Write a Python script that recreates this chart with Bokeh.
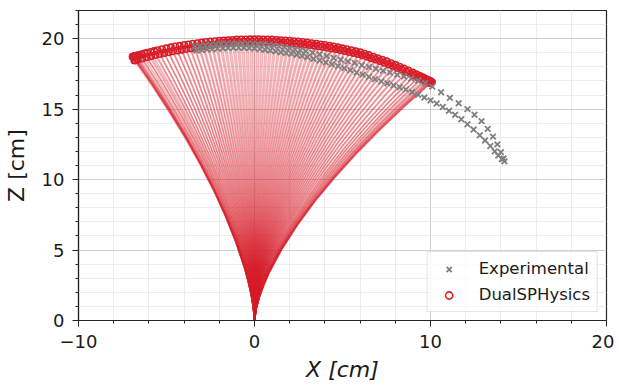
from bokeh.plotting import figure
from bokeh.models import Range1d, FixedTicker, Legend, LegendItem
from bokeh.embed import file_html
from bokeh.resources import INLINE

# ---- data ----
# DualSPHysics: beam tip positions over time [cm], swing to the right
tip_x = [-6.92, -6.9, -6.88, -6.85, -6.8, -6.74, -6.66, -6.55, -6.4, -6.25, -6.1, -5.9, -5.7, -5.5,
         -5.25, -5.0, -4.75, -4.5, -4.25, -4.0, -3.75, -3.5, -3.25, -3.0, -2.75, -2.5, -2.25, -2.0,
         -1.75, -1.5, -1.25, -1.0, -0.75, -0.5, -0.25, 0.0, 0.25, 0.5, 0.75, 1.0, 1.25, 1.5, 1.75,
         2.0, 2.25, 2.5, 2.75, 3.0, 3.25, 3.5, 3.75, 4.0, 4.25, 4.5, 4.75, 5.0, 5.25, 5.5, 5.75,
         6.0, 6.25, 6.5, 6.75, 7.0, 7.25, 7.5, 7.75, 8.0, 8.25, 8.5, 8.75, 9.0, 9.2, 9.4, 9.55,
         9.7, 9.8, 9.9, 9.97, 10.02, 10.06, 10.08]
tip_z = [18.71, 18.72, 18.73, 18.74, 18.76, 18.78, 18.81, 18.84, 18.90, 18.95, 18.99, 19.06, 19.12, 19.18,
         19.25, 19.31, 19.38, 19.44, 19.49, 19.55, 19.59, 19.64, 19.68, 19.72, 19.76, 19.79, 19.82, 19.85,
         19.87, 19.89, 19.91, 19.93, 19.94, 19.94, 19.95, 19.95, 19.95, 19.94, 19.94, 19.93, 19.91, 19.89, 19.87,
         19.85, 19.82, 19.79, 19.76, 19.72, 19.68, 19.64, 19.59, 19.55, 19.49, 19.44, 19.38, 19.31, 19.25, 19.18, 19.10,
         19.03, 18.93, 18.83, 18.72, 18.61, 18.50, 18.39, 18.26, 18.14, 18.01, 17.88, 17.74, 17.59, 17.48, 17.35, 17.26,
         17.17, 17.10, 17.04, 16.99, 16.96, 16.93, 16.92]
# swing back to the left
ret_x = [9.95, 9.85, 9.7, 9.5, 9.3, 9.1, 8.88, 8.63, 8.38, 8.13, 7.88, 7.63, 7.38, 7.13, 6.88, 6.63,
         6.38, 6.13, 5.88, 5.63, 5.38, 5.13, 4.88, 4.63, 4.38, 4.13, 3.88, 3.63, 3.38, 3.13, 2.88, 2.63,
         2.38, 2.13, 1.88, 1.63, 1.38, 1.13, 0.88, 0.63, 0.38, 0.13, -0.13, -0.38, -0.63, -0.88, -1.13,
         -1.38, -1.63, -1.88, -2.13, -2.38, -2.63, -2.88, -3.13, -3.38, -3.63, -3.88, -4.13, -4.38,
         -4.63, -4.88, -5.13, -5.38, -5.63, -5.88, -6.13, -6.38, -6.63, -6.75, -6.82]
ret_z = [16.85, 16.92, 17.02, 17.14, 17.26, 17.38, 17.51, 17.65, 17.79, 17.92, 18.05, 18.17, 18.29, 18.41,
         18.52, 18.62, 18.73, 18.83, 18.91, 18.99, 19.06, 19.13, 19.19, 19.26, 19.31, 19.37, 19.42, 19.47,
         19.51, 19.55, 19.59, 19.63, 19.66, 19.69, 19.71, 19.73, 19.75, 19.77, 19.78, 19.79, 19.80, 19.80,
         19.80, 19.80, 19.79, 19.78, 19.77, 19.75, 19.73, 19.71, 19.59, 19.56, 19.53, 19.49, 19.45, 19.36,
         19.32, 19.27, 19.22, 19.16, 19.11, 19.04, 18.98, 18.91, 18.84, 18.76, 18.69, 18.60, 18.52, 18.47, 18.45]
# beam deflection profile: fraction of height vs fraction of tip displacement
beam_h = [0.0, 0.05, 0.1, 0.15, 0.2, 0.3, 0.4, 0.5, 0.6, 0.7, 0.8, 0.9, 1.0]
beam_w = [0.0, 0.01, 0.028, 0.053, 0.082, 0.155, 0.242, 0.341, 0.453, 0.575, 0.708, 0.849, 1.0]

# Experimental tip positions: two passes
exp_up_x = [-3.4, -3.1, -2.8, -2.5, -2.2, -1.9, -1.6, -1.3, -1.0, -0.7, -0.4, -0.1, 0.2, 0.5, 0.8, 1.1,
            1.4, 1.7, 2.0, 2.3, 2.6, 2.9, 3.3, 3.7, 4.1, 4.5, 4.9, 5.3, 5.7, 6.1, 6.5, 6.9, 7.3, 7.7,
            8.1, 8.5, 8.9, 9.3, 9.7, 10.1, 10.6, 11.1, 11.6, 12.1, 12.5, 12.9, 13.25, 13.55, 13.8,
            14.0, 14.15]
exp_up_z = [19.45, 19.49, 19.53, 19.57, 19.60, 19.62, 19.64, 19.65, 19.66, 19.66, 19.66, 19.65, 19.63,
            19.61, 19.57, 19.52, 19.46, 19.40, 19.33, 19.25, 19.18, 19.11, 19.01, 18.89, 18.76, 18.63,
            18.51, 18.39, 18.27, 18.12, 17.99, 17.86, 17.73, 17.59, 17.45, 17.31, 17.17, 17.02, 16.85,
            16.6, 16.2, 15.8, 15.42, 15.0, 14.6, 14.15, 13.6, 13.05, 12.5, 11.95, 11.5]
exp_lo_x = [-3.3, -3.0, -2.7, -2.4, -2.1, -1.8, -1.5, -1.2, -0.9, -0.6, -0.3, 0.0, 0.3, 0.6, 0.9, 1.2,
            1.5, 1.8, 2.1, 2.4, 2.7, 3.0, 3.35, 3.7, 4.05, 4.4, 4.75, 5.1, 5.45, 5.8, 6.15, 6.5, 6.85,
            7.2, 7.55, 7.9, 8.25, 8.6, 8.95, 9.3, 9.65, 10.0, 10.35, 10.7, 11.05, 11.4, 11.75, 12.1,
            12.45, 12.8, 13.1, 13.4, 13.65, 13.85, 14.05, 14.2]
exp_lo_z = [19.15, 19.19, 19.23, 19.27, 19.30, 19.32, 19.34, 19.35, 19.36, 19.35, 19.33, 19.31, 19.27,
            19.22, 19.16, 19.10, 19.04, 18.98, 18.92, 18.85, 18.78, 18.69, 18.57, 18.45, 18.32, 18.19,
            18.05, 17.91, 17.76, 17.60, 17.45, 17.29, 17.13, 16.97, 16.83, 16.69, 16.55, 16.39, 16.21,
            16.02, 15.82, 15.62, 15.40, 15.15, 14.88, 14.60, 14.28, 13.93, 13.55, 13.15, 12.78, 12.38,
            12.0, 11.7, 11.45, 11.3]

x_major = [-10, 0, 10, 20]
x_minor = [-8, -6, -4, -2, 2, 4, 6, 8, 12, 14, 16, 18]
y_major = [0, 5, 10, 15, 20]
y_minor = [1, 2, 3, 4, 6, 7, 8, 9, 11, 12, 13, 14, 16, 17, 18, 19, 21, 22]

RED = "#d81e2a"
GRAY = "#7f7f7f"
FONT = "DejaVu Sans"
AX = "#262626"

p = figure(width=614, height=385, x_range=Range1d(-10, 20), y_range=Range1d(0, 22),
           output_backend="svg", toolbar_location=None,
           min_border_left=78, min_border_right=8, min_border_top=10, min_border_bottom=65)
p.background_fill_color = "white"
p.border_fill_color = "white"
p.outline_line_color = AX
p.outline_line_width = 1.2

# beam shapes
all_tx = tip_x + ret_x
all_tz = tip_z + ret_z
xs = [[tx * w for w in beam_w] for tx in all_tx]
ys = [[tz * h for h in beam_h] for tz in all_tz]
p.multi_line(xs, ys, line_color=RED, line_alpha=0.33, line_width=1.6)

circ = p.scatter(all_tx, all_tz, marker="circle", size=6.5, fill_color=None,
                 line_color=RED, line_width=1.6)
exp = p.scatter(exp_up_x + exp_lo_x, exp_up_z + exp_lo_z, marker="x", size=8,
                line_color=GRAY, line_width=1.8)

# axes
p.xaxis.ticker = FixedTicker(ticks=x_major, minor_ticks=x_minor)
p.yaxis.ticker = FixedTicker(ticks=y_major, minor_ticks=y_minor)
p.xaxis.major_label_overrides = {-10: "\u221210"}
for ax in (p.xaxis[0], p.yaxis[0]):
    ax.axis_line_color = AX
    ax.axis_line_width = 1.2
    ax.major_tick_line_color = AX
    ax.minor_tick_line_color = AX
    ax.major_tick_out = 6
    ax.major_tick_in = 0
    ax.minor_tick_out = 3
    ax.minor_tick_in = 0
    ax.major_label_text_font = FONT
    ax.major_label_text_font_size = "18px"
    ax.major_label_text_color = "#1a1a1a"
    ax.axis_label_text_font = FONT
    ax.axis_label_text_font_size = "22px"
    ax.axis_label_text_color = "#1a1a1a"
p.xaxis.axis_label = "X [cm]"
p.xaxis.axis_label_text_font_style = "italic"
p.xaxis.major_label_standoff = 8
p.xaxis.axis_label_standoff = 6
p.yaxis.axis_label = "Z [cm]"
p.yaxis.axis_label_text_font_style = "normal"
p.yaxis.major_label_standoff = 8
p.yaxis.axis_label_standoff = 10

p.grid.grid_line_color = "#d0d0d0"
p.grid.grid_line_width = 1
p.grid.minor_grid_line_color = "#ececec"
p.grid.minor_grid_line_width = 1

legend = Legend(items=[LegendItem(label="Experimental", renderers=[exp]),
                       LegendItem(label="DualSPHysics", renderers=[circ])],
                location="bottom_right")
legend.label_text_font = FONT
legend.label_text_font_size = "16.5px"
legend.label_text_color = "#1a1a1a"
legend.border_line_color = "#cccccc"
legend.border_line_width = 1
legend.background_fill_color = "white"
legend.background_fill_alpha = 0.8
legend.padding = 7
legend.spacing = 7
legend.margin = 8
legend.glyph_width = 28
legend.glyph_height = 18
legend.label_height = 18
legend.label_standoff = 16
p.add_layout(legend)

open("out.html", "w").write(file_html(p, INLINE))
